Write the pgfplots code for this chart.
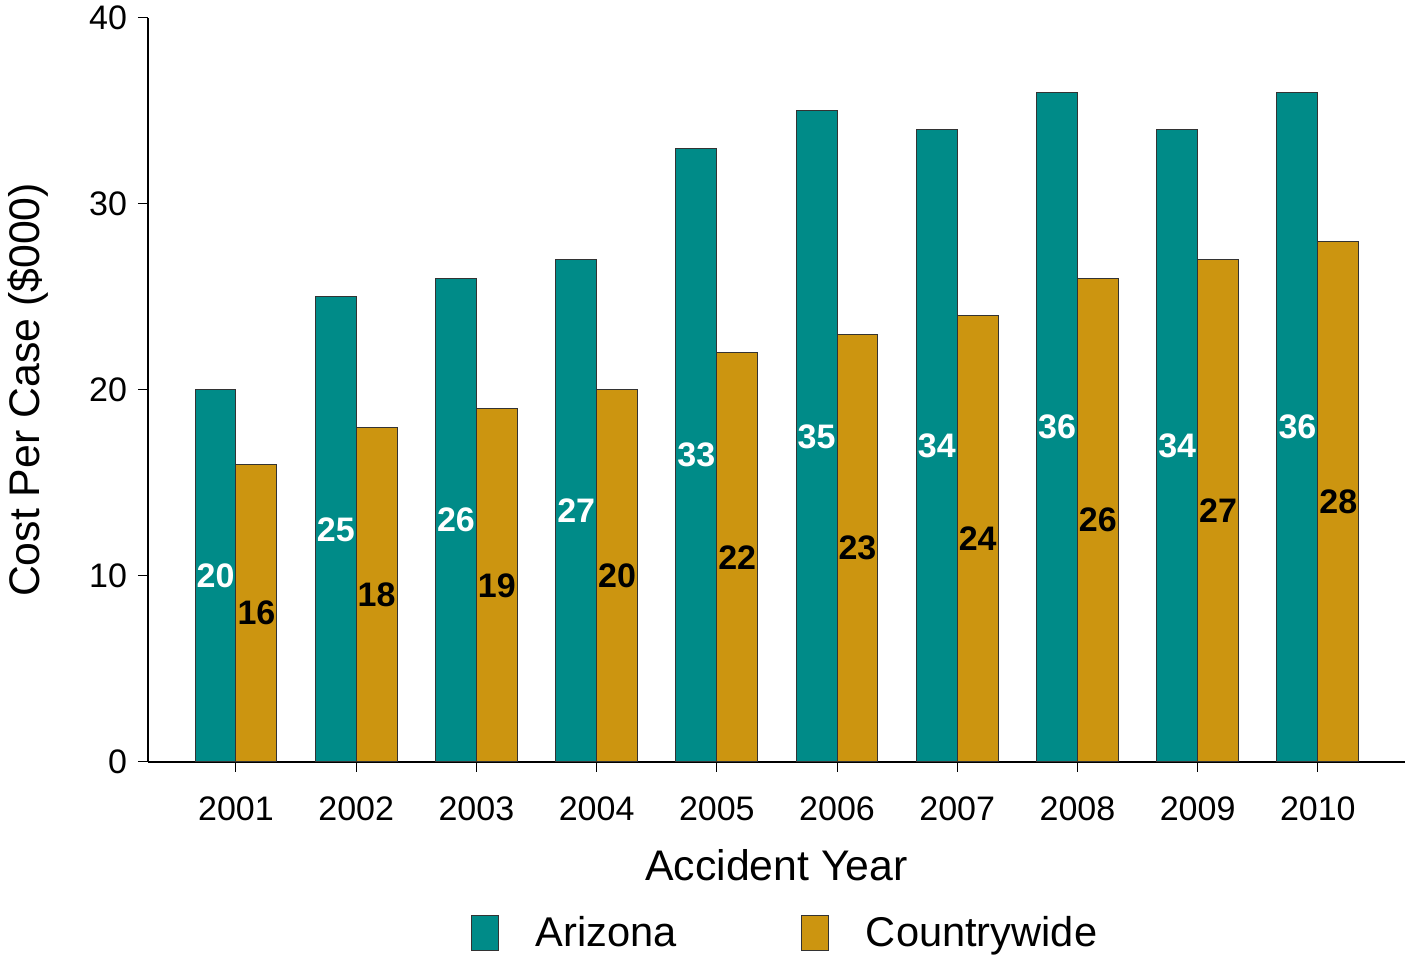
\documentclass[border=0pt]{standalone}
\usepackage{pgfplots}
\usepackage{pgfplotstable}
\pgfplotsset{compat=1.18}
\usepackage{fontspec}
\setmainfont{Liberation Sans}
\definecolor{azteal}{RGB}{0,139,136}
\definecolor{cwgold}{RGB}{204,149,16}
\pgfplotstableread{
x az cw
0 20 16
1 25 18
2 26 19
3 27 20
4 33 22
5 35 23
6 34 24
7 36 26
8 34 27
9 36 28
}\costdata
\pgfplotsset{
  mylegend/.style={legend image code/.code={\draw[##1,draw=black!80,line width=0.5pt] (0pt,-8.75pt) rectangle (13.5pt,8.75pt);}},
}
\begin{document}
\begin{tikzpicture}
\useasboundingbox (-74pt,-97.5pt) rectangle (630pt,381pt);
\begin{axis}[
  scale only axis,
  width=628.5pt, height=372pt,
  xmin=-0.732, xmax=9.725,
  ymin=0, ymax=40,
  axis x line*=bottom, axis y line*=left,
  axis line style={line width=0.6pt},
  tick align=outside,
  major tick length=5pt,
  tick style={line width=0.5pt, black},
  xtick={0,...,9},
  xticklabels={2001,2002,2003,2004,2005,2006,2007,2008,2009,2010},
  ytick={0,10,20,30,40},
  /pgf/number format/assume math mode=true,
  ticklabel style={font=\fontsize{17}{20}\selectfont},
  x tick label style={yshift=-9pt},
  y tick label style={xshift=-2pt},
  xlabel={Accident Year},
  ylabel={Cost Per Case (\$000)},
  label style={font=\fontsize{21.4}{25}\selectfont},
  xlabel style={at={(axis description cs:0.5,-0.1384)}, anchor=center},
  ylabel style={at={(axis description cs:-0.0955,0.5)}, anchor=center},
  legend columns=2,
  legend style={draw=none, fill=none, at={(axis description cs:0.5076,-0.2298)}, anchor=center,
    font=\fontsize{20.8}{24}\selectfont,
    /tikz/every odd column/.append style={column sep=16.5pt},
    /tikz/every even column/.append style={column sep=60pt}},
]
\addplot[ybar, mylegend, bar width=0.34, bar shift=-0.17, fill=azteal, draw=black!80, line width=0.5pt]
  table[x=x, y=az] {\costdata};
\addlegendentry{Arizona}
\addplot[ybar, mylegend, bar width=0.34, bar shift=0.17, fill=cwgold, draw=black!80, line width=0.5pt]
  table[x=x, y=cw] {\costdata};
\addlegendentry{Countrywide}
\addplot[forget plot, draw=none, mark=none, nodes near coords, point meta=explicit,
  every node near coord/.append style={anchor=center, text=white, font=\bfseries\fontsize{17}{20}\selectfont}]
  table[x expr=\thisrow{x}-0.17, y expr=\thisrow{az}/2, meta=az] {\costdata};
\addplot[forget plot, draw=none, mark=none, nodes near coords, point meta=explicit,
  every node near coord/.append style={anchor=center, text=black, font=\bfseries\fontsize{17}{20}\selectfont}]
  table[x expr=\thisrow{x}+0.17, y expr=\thisrow{cw}/2, meta=cw] {\costdata};
\end{axis}
\end{tikzpicture}
\end{document}
